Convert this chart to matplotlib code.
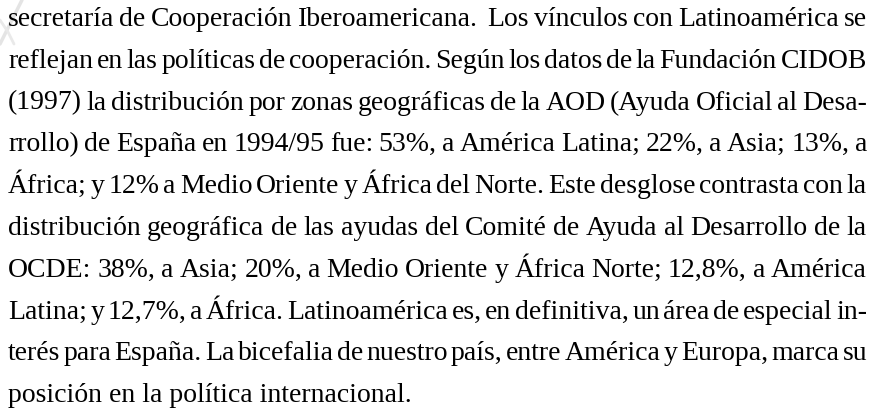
import matplotlib
matplotlib.use("Agg")
import matplotlib.pyplot as plt

lines = [
    "secretaría de Cooperación Iberoamericana.  Los vínculos con Latinoamérica se",
    "reflejan en las políticas de cooperación. Según los datos de la Fundación CIDOB",
    "(1997) la distribución por zonas geográficas de la AOD (Ayuda Oficial al Desa-",
    "rrollo) de España en 1994/95 fue: 53%, a América Latina; 22%, a Asia; 13%, a",
    "África; y 12% a Medio Oriente y África del Norte. Este desglose contrasta con la",
    "distribución geográfica de las ayudas del Comité de Ayuda al Desarrollo de la",
    "OCDE: 38%, a Asia; 20%, a Medio Oriente y África Norte; 12,8%, a América",
    "Latina; y 12,7%, a África. Latinoamérica es, en definitiva, un área de especial in-",
    "terés para España. La bicefalia de nuestro país, entre América y Europa, marca su",
    "posición en la política internacional.",
]

W, H = 891, 417
DPI = 100
fig = plt.figure(figsize=(W / DPI, H / DPI), dpi=DPI)
fig.patch.set_facecolor("white")
ax = fig.add_axes([0, 0, 1, 1])
ax.set_xlim(0, W)
ax.set_ylim(H, 0)
ax.axis("off")

# faint watermark strokes at top-left
ax.plot([22, 12, 0], [0, 20, 44], color="#e4e4e4", lw=2.5, solid_capstyle="round")
ax.plot([0, 8, 14], [20, 32, 44], color="#e9e9e9", lw=2.0, solid_capstyle="round")

FS = 20.0
FONT = "Liberation Serif"
LEFT, RIGHT = 8, 867
Y0, PITCH = 26, 41.8

renderer = fig.canvas.get_renderer()


def width_of(s):
    t = ax.text(0, 0, s, fontsize=FS, family=FONT)
    w = t.get_window_extent(renderer=renderer).width
    t.remove()
    return w


for i, line in enumerate(lines):
    y = Y0 + i * PITCH
    last = i == len(lines) - 1
    if last:
        ax.text(LEFT, y, line, fontsize=FS, family=FONT, va="baseline", ha="left", color="black")
        continue
    words = line.split(" ")
    widths = [width_of(w) if w else 0.0 for w in words]
    gap = (RIGHT - LEFT - sum(widths)) / (len(words) - 1)
    x = LEFT
    for w, wd in zip(words, widths):
        if w:
            ax.text(x, y, w, fontsize=FS, family=FONT, va="baseline", ha="left", color="black")
        x += wd + gap

fig.savefig("out.png", dpi=DPI, facecolor="white")
